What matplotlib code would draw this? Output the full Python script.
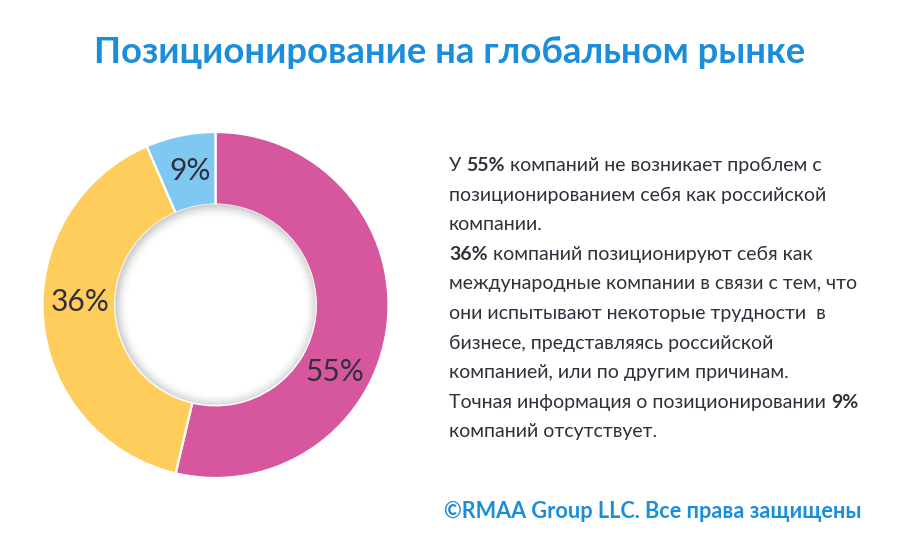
import numpy as np
import matplotlib
matplotlib.use('Agg')
from matplotlib import pyplot as plt

# data
shares = [53.7, 39.8, 6.5]          # wedge sizes as drawn
labels = ['55%', '36%', '9%']       # numbers printed on the wedges
colors = ['#D6579E', '#FECD5B', '#7FC8F2']

title = 'Позиционирование на глобальном рынке'
footer = '©RMAA Group LLC. Все права защищены'

# text block, (text, bold) segments per line
body = [
	[('У ', False), ('55%', True), (' компаний не возникает проблем с', False)],
	[('позиционированием себя как российской', False)],
	[('компании.', False)],
	[('36%', True), (' компаний позиционируют себя как', False)],
	[('международные компании в связи с тем, что', False)],
	[('они испытывают некоторые трудности  в', False)],
	[('бизнесе, представляясь российской', False)],
	[('компанией, или по другим причинам.', False)],
	[('Точная информация о позиционировании ', False), ('9%', True)],
	[('компаний отсутствует.', False)],
]

W, H = 900, 554
BLUE = '#1A8EDB'
DARK = '#30303C'

plt.rcParams['font.family'] = ['Lato', 'DejaVu Sans']

fig = plt.figure(figsize=(W / 100, H / 100), dpi=100)
fig.patch.set_facecolor('white')

def fx(x):
	return x / W

def fy(y):
	return 1 - y / H


# ---- donut ----
cx, cy, R = 215.5, 305.0, 173.0
ax = fig.add_axes([fx(cx - R), fy(cy + R), 2 * R / W, 2 * R / H])
ax.set_xlim(-1, 1)
ax.set_ylim(-1, 1)
ax.set_aspect('equal')
ax.axis('off')

ring = 0.42
r_in = 1 - ring
ax.pie(shares, colors=colors, startangle=90, counterclock=False, radius=1,
	wedgeprops=dict(width=ring, edgecolor='white', linewidth=1.6))
ax.set_xlim(-1, 1)
ax.set_ylim(-1, 1)

# soft inner shadow round the hole
n = 500
g = np.linspace(-r_in, r_in, n)
gx, gy = np.meshgrid(g, g)
d = np.sqrt((gx - 0.006) ** 2 + (gy + 0.006) ** 2)
a = np.clip(1 - (r_in - d) / 0.075, 0, 1) ** 2 * 0.38
a[np.sqrt(gx ** 2 + gy ** 2) > r_in] = 0
img = np.zeros((n, n, 4))
img[..., :3] = 0.5
img[..., 3] = a
ax.imshow(img, extent=[-r_in, r_in, -r_in, r_in], origin='lower', zorder=3, interpolation='bilinear')

# labels on the ring, angles clockwise from top
label_pos = [(0.79, 119.5), (0.785, 271.3), (0.79, 349.5)]
for lab, (r, ang) in zip(labels, label_pos):
	t = np.radians(ang)
	ax.text(r * np.sin(t), r * np.cos(t), lab, ha='center', va='center',
		fontsize=21.5, color=DARK, zorder=4)


# ---- texts ----
fig.text(0.5, fy(63), title, ha='center', va='baseline', fontsize=26.2,
	fontweight='bold', color=BLUE)

fig.text(fx(862), fy(518), footer, ha='right', va='baseline', fontsize=15.6,
	fontweight='bold', color=BLUE)

renderer = fig.canvas.get_renderer()
body_size = 14.0


def text_width(s, bold):
	t = fig.text(0, 0, s, fontsize=body_size, fontweight='bold' if bold else 'normal')
	w = t.get_window_extent(renderer).width
	t.remove()
	return w


space_w = {b: text_width('a a', b) - text_width('aa', b) for b in (False, True)}

x0, y0, step = 449, 171, 29.6
for i, line in enumerate(body):
	x = x0
	y = y0 + i * step
	for s, bold in line:
		lead = len(s) - len(s.lstrip(' '))
		trail = len(s) - len(s.rstrip(' '))
		x += lead * space_w[bold]
		core = s.strip(' ')
		t = fig.text(fx(x), fy(y), core, ha='left', va='baseline', fontsize=body_size,
			fontweight='bold' if bold else 'normal', color=DARK)
		x += t.get_window_extent(renderer).width
		x += trail * space_w[bold]

fig.savefig('out.png', dpi=100, facecolor='white')
